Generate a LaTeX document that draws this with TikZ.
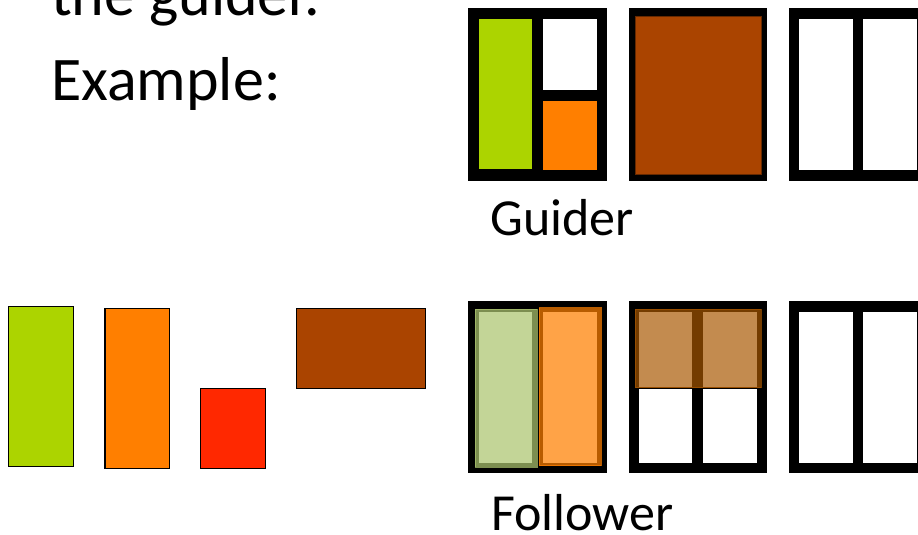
\documentclass[tikz,border=0pt]{standalone}
\usepackage{fontspec}
\setmainfont{Carlito}
\definecolor{pgreen}{RGB}{172,212,0}
\definecolor{porange}{RGB}{255,127,0}
\definecolor{pred}{RGB}{255,40,0}
\definecolor{pbrown}{RGB}{170,68,0}
\definecolor{ogreen}{RGB}{173,198,112}
\definecolor{oorange}{RGB}{255,128,0}
\definecolor{obrown}{RGB}{169,87,0}
\begin{document}
\begin{tikzpicture}[x=1pt,y=-1pt,
  frame/.style={fill=black},
  cell/.style={fill=white},
  piece/.style={draw=black,line width=1.4pt},
  overlay/.style={fill opacity=0.72,draw opacity=0.72,line width=0.5pt},
  bigtext/.style={font=\fontsize{62}{70}\selectfont,inner sep=0pt,anchor=base west},
  label/.style={font=\fontsize{52}{60}\selectfont,inner sep=0pt,anchor=base west}]
\useasboundingbox (0,0) rectangle (918,535);
\clip (0,0) rectangle (918,535);
% text
\node[bigtext] (t1) at (51,16) {the guider.};
\node[bigtext] (t2) at (51,100) {Example:};
\node[label] (gl) at (490,235) {Guider};
\node[label] (fl) at (491,530) {Follower};
% Guider frame 1
\fill[frame] (468.3,8.3) rectangle (607.3,180.7);
\fill[pgreen] (479.3,19) rectangle (532.3,169);
\fill[cell] (543.3,19) rectangle (596.7,90);
\fill[porange] (543.3,100.7) rectangle (596.7,170);
% Guider frame 2
\fill[frame] (629,8.3) rectangle (767,180.7);
\filldraw[fill=pbrown,draw=pbrown!60!black,line width=0.8pt] (635,16) rectangle (761,174.3);
% Guider frame 3
\fill[frame] (788.7,8.3) rectangle (928,180.7);
\fill[cell] (799.3,19) rectangle (852.7,170);
\fill[cell] (863.3,19) rectangle (916.7,170);
% Pieces
\draw[piece,fill=pgreen] (8.3,306.7) rectangle (73.3,466.7);
\draw[piece,fill=porange] (105,308.3) rectangle (169.3,468.3);
\draw[piece,fill=pred] (200.7,388.3) rectangle (265.7,468.3);
\draw[piece,fill=pbrown] (296.7,308.3) rectangle (425.7,388.3);
% Follower frame 1
\fill[frame] (468.3,301) rectangle (607.3,473.3);
\fill[cell] (479.3,312.3) rectangle (532.3,463.3);
\fill[cell] (543.3,312.3) rectangle (596.7,463.3);
\filldraw[overlay,fill=ogreen,draw=ogreen] (475,309.3) rectangle (537,467.3);
\filldraw[overlay,fill=oorange,draw=oorange] (539,307.7) rectangle (601,465.7);
% Follower frame 2
\fill[frame] (629,301) rectangle (767,473.3);
\fill[cell] (639,312.3) rectangle (692.3,386.7);
\fill[cell] (703,312.3) rectangle (756.7,386.7);
\fill[cell] (639,389) rectangle (692.3,463.3);
\fill[cell] (703,389) rectangle (756.7,463.3);
\filldraw[fill=obrown,draw=obrown,fill opacity=0.69,draw opacity=0.69,line width=0.5pt] (635,309.3) rectangle (761,387.7);
% Follower frame 3
\fill[frame] (788.7,301) rectangle (928,473.3);
\fill[cell] (799.3,312.3) rectangle (852.7,463.3);
\fill[cell] (863.3,312.3) rectangle (916.7,463.3);
\end{tikzpicture}
\end{document}
